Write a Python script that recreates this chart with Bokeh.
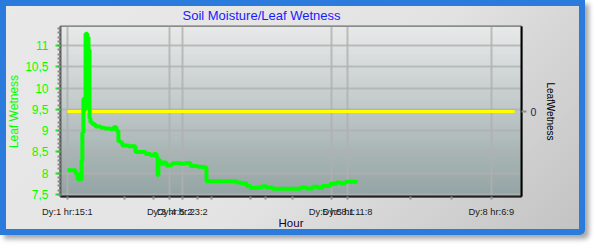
import numpy as np
from bokeh.plotting import figure
from bokeh.models import Range1d, LinearAxis, FixedTicker
from bokeh.embed import file_html
from bokeh.resources import INLINE

# ---- data (hours from chart start, leaf wetness) ----
hours = [2.6, 5.6, 6.4, 7.9, 8.2, 8.6, 9.0, 9.4, 10.1, 10.5, 10.9, 11.2, 12.0, 13.1,
         15.0, 16.5, 18.7, 19.9, 21.0, 21.7, 22.5, 23.2, 25.5, 28.1, 31.9, 33.7,
         34.9, 36.0, 36.4, 36.7, 37.5, 38.6, 39.7, 41.2, 42.0, 45.0, 46.9, 48.7,
         51.3, 53.2, 54.7, 66.0, 67.5, 69.7, 71.2, 74.2, 75.7, 77.2, 79.5, 90.0,
         92.2, 94.5, 96.7, 98.2, 101.2, 103.4, 104.9, 106.8, 111.3]
wetness = [8.07, 8.00, 7.85, 8.30, 8.95, 9.75, 9.50, 11.28, 11.20, 10.90, 9.30, 9.20,
           9.15, 9.10, 9.07, 9.05, 9.03, 9.08, 9.00, 8.75, 8.72, 8.65, 8.63, 8.50,
           8.45, 8.42, 8.45, 8.38, 7.95, 8.30, 8.22, 8.25, 8.18, 8.20, 8.23, 8.22,
           8.24, 8.17, 8.15, 8.14, 7.81, 7.78, 7.76, 7.70, 7.65, 7.67, 7.69, 7.66,
           7.63, 7.66, 7.64, 7.68, 7.65, 7.70, 7.75, 7.78, 7.76, 7.80, 7.80]

# second series (right axis)
leaf2_hours = [2.6, 170.2]
leaf2_values = [0, 0]

x_ticks = [2.6, 40.9, 45.7, 101.6, 107.6, 161.5]
x_tick_labels = ["Dy:1 hr:15:1", "Dy:3 hr:5:2", "Dy:4 hr:23:2",
                 "Dy:5 hr:8:1", "Dy:5 hr:11:8", "Dy:8 hr:6:9"]
x_minor_ticks = [24.0, 34.9, 51.3, 56.6, 71.2, 76.8, 87.0, 131.2, 146.6]

y_ticks = [7.5, 8, 8.5, 9, 9.5, 10, 10.5, 11]
y_tick_labels = ["7,5", "8", "8,5", "9", "9,5", "10", "10,5", "11"]

X0, X1 = 0, 172.8
Y0, Y1 = 7.45, 11.45

p = figure(width=585, height=235, output_backend="svg", toolbar_location=None,
           x_range=Range1d(X0, X1), y_range=Range1d(Y0, Y1),
           min_border_left=60, min_border_right=64, min_border_top=26,
           min_border_bottom=39, title="Soil Moisture/Leaf Wetness")
p.styles = {
    "box-shadow": "inset 0 0 0 6px #2b7bdc, 4px 4px 5px rgba(0,0,0,0.35)",
    "border-radius": "0 0 5px 0",
    "background": "linear-gradient(135deg, #e9e9e9 0%, #e3e3e3 55%, #c2c2c2 100%)",
}
p.border_fill_alpha = 0
p.background_fill_color = "#c8cfcf"
p.outline_line_color = "#6a6a6a"
p.outline_line_width = 2

p.title.text_color = "#1a1aff"
p.title.text_font = "Liberation Sans"
p.title.text_font_size = "13px"
p.title.text_font_style = "normal"
p.title.align = "left"
p.title.offset = 122
p.title.standoff = 7

# plot-area gradient
N = 64
t = np.linspace(0, 1, N)
img = np.empty((N, 1), dtype=np.uint32)
v = img.view(dtype=np.uint8).reshape((N, 1, 4))
v[:, 0, 0] = (0x94 + t * (0xe8 - 0x94)).astype(np.uint8)
v[:, 0, 1] = (0xa4 + t * (0xea - 0xa4)).astype(np.uint8)
v[:, 0, 2] = (0xa4 + t * (0xea - 0xa4)).astype(np.uint8)
v[:, 0, 3] = 255
p.image_rgba(image=[img], x=X0, y=Y0, dw=X1 - X0, dh=Y1 - Y0, level="image")

# grids
p.xgrid.ticker = FixedTicker(ticks=x_ticks)
p.ygrid.ticker = FixedTicker(ticks=y_ticks)
for g in (p.xgrid, p.ygrid):
    g.grid_line_color = "#b0b0b0"
    g.grid_line_width = 2
    g.grid_line_alpha = 0.8

# left axis
ya = p.yaxis[0]
ya.ticker = FixedTicker(ticks=y_ticks, minor_ticks=list(np.arange(7.5, 11.45, 0.1)))
ya.major_label_overrides = {tk: lb for tk, lb in zip(y_ticks, y_tick_labels)}
ya.axis_label = "Leaf Wetness"
ya.axis_label_text_color = "#00ff00"
ya.axis_label_text_font = "Liberation Sans"
ya.axis_label_text_font_size = "12px"
ya.axis_label_text_font_style = "normal"
ya.axis_label_standoff = 1
ya.major_label_text_color = "#00ff00"
ya.major_label_text_font = "Liberation Sans"
ya.major_label_text_font_size = "12px"
ya.major_label_standoff = 7
ya.major_tick_line_color = "#00ff00"
ya.major_tick_line_width = 2
ya.major_tick_out = 5
ya.major_tick_in = 0
ya.minor_tick_line_color = "#8a8a8a"
ya.minor_tick_line_width = 2
ya.minor_tick_out = 3
ya.minor_tick_in = 0
ya.axis_line_color = "#5a5a5a"
ya.axis_line_width = 2

# bottom axis
xa = p.xaxis[0]
xa.ticker = FixedTicker(ticks=x_ticks, minor_ticks=x_minor_ticks)
xa.major_label_overrides = {tk: lb for tk, lb in zip(x_ticks, x_tick_labels)}
xa.axis_label = "Hour"
xa.axis_label_text_color = "#1a0033"
xa.axis_label_text_font = "Liberation Sans"
xa.axis_label_text_font_size = "11.5px"
xa.axis_label_text_font_style = "normal"
xa.axis_label_standoff = -3
xa.major_label_text_color = "#1a1a1a"
xa.major_label_text_font = "Liberation Sans"
xa.major_label_text_font_size = "9.3px"
xa.major_label_standoff = 7
xa.major_tick_line_color = "#909090"
xa.major_tick_line_width = 2
xa.major_tick_out = 3
xa.major_tick_in = 0
xa.minor_tick_line_color = "#909090"
xa.minor_tick_line_width = 2
xa.minor_tick_out = 3
xa.minor_tick_in = 0
xa.axis_line_color = "#202020"
xa.axis_line_width = 2

# right axis
p.extra_y_ranges = {"lw": Range1d(-1, 1)}
ra = LinearAxis(y_range_name="lw", ticker=FixedTicker(ticks=[0], minor_ticks=[]))
ra.axis_label = "LeafWetness"
ra.axis_label_text_color = "#000000"
ra.axis_label_text_font = "Liberation Sans"
ra.axis_label_text_font_size = "10px"
ra.axis_label_text_font_style = "normal"
ra.axis_label_standoff = 6
ra.major_label_text_color = "#1c1c5c"
ra.major_label_text_font = "Liberation Sans"
ra.major_label_text_font_size = "10.5px"
ra.major_label_standoff = 4
ra.major_tick_line_color = "#909090"
ra.major_tick_line_width = 2
ra.major_tick_out = 5
ra.major_tick_in = 0
ra.minor_tick_line_color = None
ra.axis_line_color = "#000000"
ra.axis_line_width = 2
p.add_layout(ra, "right")

# series
p.line(leaf2_hours, leaf2_values, y_range_name="lw", color="#ffff00", line_width=3)
p.step(hours, wetness, mode="after", color="#00ff00", line_width=4)

open("out.html", "w").write(file_html(p, INLINE))
